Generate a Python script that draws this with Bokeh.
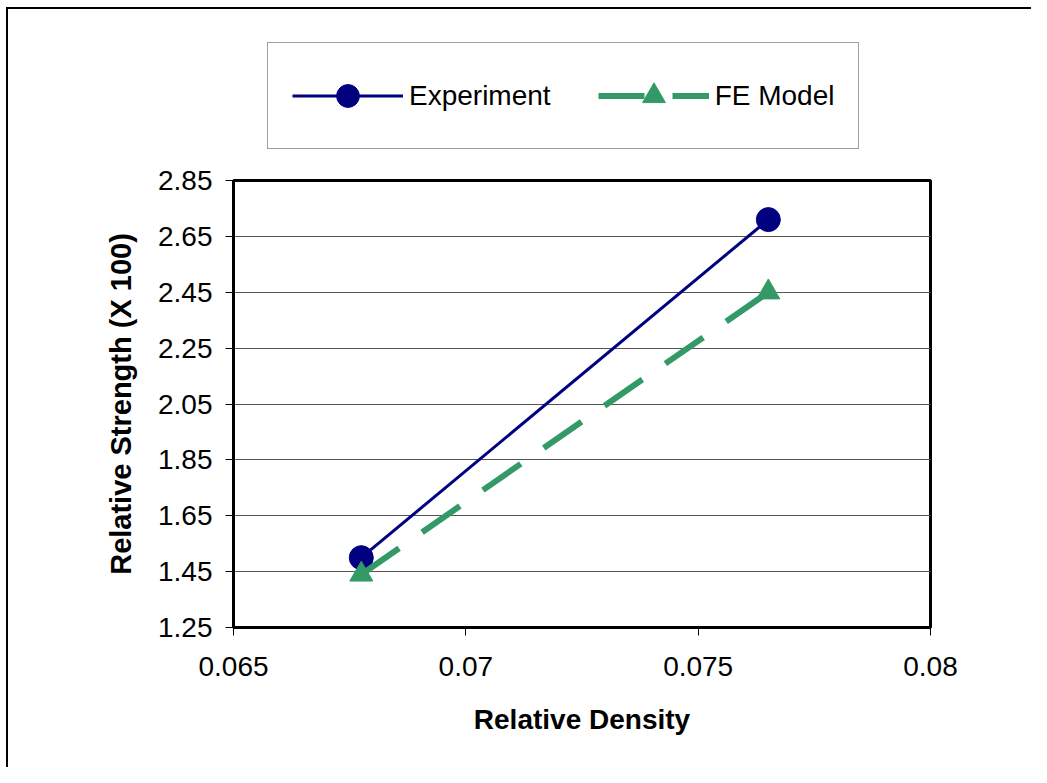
from bokeh.plotting import figure
from bokeh.layouts import column
from bokeh.models import FixedTicker, Legend, LegendItem, Range1d
from bokeh.embed import file_html
from bokeh.resources import INLINE

# ---- data ----
density = [0.06775, 0.07651]
experiment = [1.50, 2.71]
fe_model = [1.44, 2.45]

x_ticks = [0.065, 0.07, 0.075, 0.08]
x_tick_labels = ["0.065", "0.07", "0.075", "0.08"]
y_ticks = [1.25, 1.45, 1.65, 1.85, 2.05, 2.25, 2.45, 2.65, 2.85]

FONT = "Liberation Sans"
NAVY = "#000080"
GREEN = "#339966"

W = 1031
BL, BR = 233, 101   # shared left/right borders so both frames line up


def add_series(fig):
    l1 = fig.line(density, experiment, line_color=NAVY, line_width=3)
    s1 = fig.scatter(density, experiment, marker="circle", size=24,
                     fill_color=NAVY, line_color=NAVY)
    l2 = fig.line(density, fe_model, line_color=GREEN, line_width=6,
                  line_dash="46 28")
    s2 = fig.scatter(density, fe_model, marker="triangle", size=23,
                     fill_color=GREEN, line_color=GREEN)
    return l1, s1, l2, s2


# ---------------- legend strip (top) ----------------
pl = figure(width=W, height=160, output_backend="svg", toolbar_location=None,
            x_range=Range1d(0, 1), y_range=Range1d(10, 11),
            x_axis_location=None, y_axis_location=None,
            min_border_left=BL, min_border_right=BR,
            min_border_top=20, min_border_bottom=0)
pl.grid.visible = False
pl.outline_line_color = None
pl.background_fill_color = None
pl.border_fill_color = None
ll1, ls1, ll2, ls2 = add_series(pl)   # same series; outside this strip's ranges

legend = Legend(items=[LegendItem(label="Experiment", renderers=[ll1, ls1]),
                       LegendItem(label="FE Model", renderers=[ll2, ls2])],
                orientation="horizontal", location=(34, 11), margin=0,
                padding=24, spacing=47, label_standoff=6,
                glyph_width=111, glyph_height=57,
                label_text_font=FONT, label_text_font_size="28px",
                label_text_color="black",
                border_line_color="#404040", border_line_width=1.2,
                background_fill_color="white", background_fill_alpha=1)
pl.add_layout(legend, "center")

# ---------------- main chart ----------------
p = figure(width=W, height=607, output_backend="svg", toolbar_location=None,
           x_range=Range1d(0.065, 0.08), y_range=Range1d(1.25, 2.85),
           min_border_left=BL, min_border_right=BR,
           min_border_top=20, min_border_bottom=140)

p.background_fill_color = "white"
p.border_fill_color = None
p.outline_line_color = "black"
p.outline_line_width = 3

p.xgrid.grid_line_color = None
p.ygrid.grid_line_color = "#555555"
p.ygrid.grid_line_width = 1
p.ygrid.ticker = FixedTicker(ticks=y_ticks)

p.xaxis.ticker = FixedTicker(ticks=x_ticks)
p.xaxis.major_label_overrides = {t: l for t, l in zip(x_ticks, x_tick_labels)}
p.yaxis.ticker = FixedTicker(ticks=y_ticks)
p.yaxis.major_label_overrides = {t: f"{t:.2f}" for t in y_ticks}

for ax in (p.xaxis[0], p.yaxis[0]):
    ax.axis_line_color = "black"
    ax.axis_line_width = 3
    ax.major_tick_line_color = "black"
    ax.major_tick_line_width = 1
    ax.major_tick_out = 8
    ax.major_tick_in = 0
    ax.minor_tick_line_color = None
    ax.major_label_text_font = FONT
    ax.major_label_text_font_size = "28px"
    ax.major_label_text_color = "black"
    ax.axis_label_text_font = FONT
    ax.axis_label_text_font_style = "bold"
    ax.axis_label_text_color = "black"

p.xaxis.axis_label = "Relative Density"
p.xaxis.axis_label_text_font_size = "28px"
p.xaxis.major_label_standoff = 21
p.xaxis.axis_label_standoff = 25

p.yaxis.axis_label = "Relative Strength (X 100)"
p.yaxis.axis_label_text_font_size = "29px"
p.yaxis.major_label_standoff = 13
p.yaxis.axis_label_standoff = 18

add_series(p)

layout = column(pl, p, spacing=0)
# outer chart-area border (only its left and top edges are visible in the reference)
layout.styles = {
    "background-color": "#fff",
    "background-image": "linear-gradient(#000,#000), linear-gradient(#000,#000)",
    "background-position": "6px 7px, 6px 7px",
    "background-size": "2px 760px, 1025px 2px",
    "background-repeat": "no-repeat, no-repeat",
}

open("out.html", "w").write(file_html(layout, INLINE))
